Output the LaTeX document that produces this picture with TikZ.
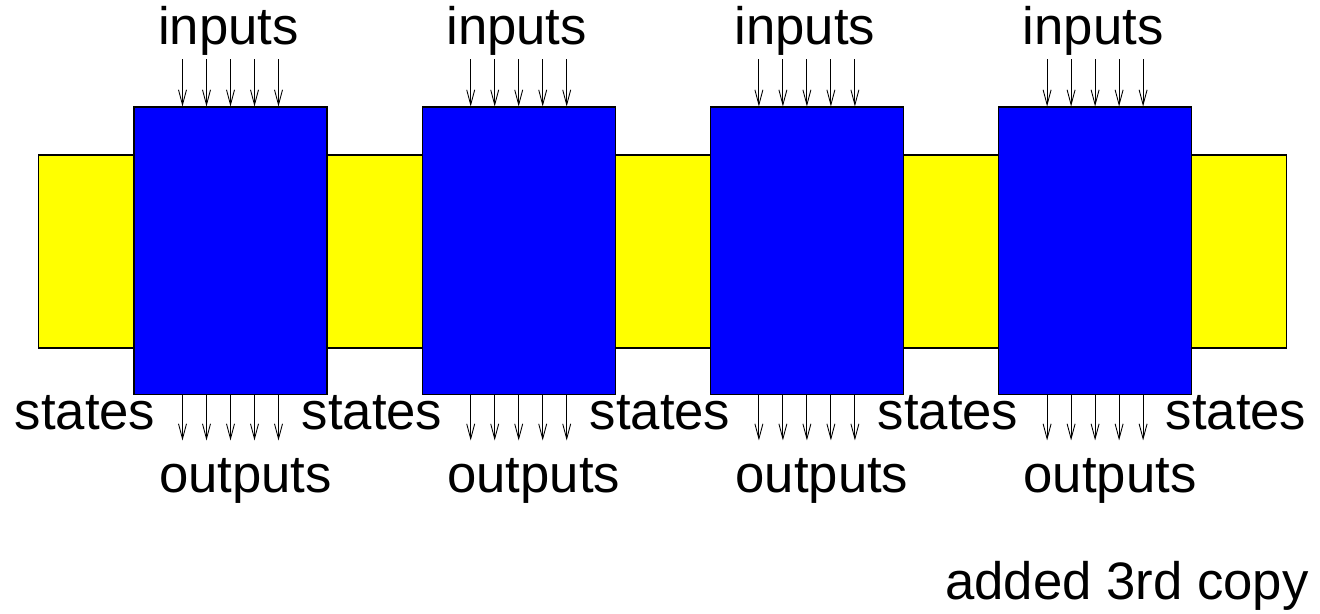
\documentclass[tikz,border=0pt]{standalone}
\usepackage{fontspec}
\setmainfont{Liberation Sans}
\usetikzlibrary{arrows.meta,calc}

\definecolor{bandyellow}{RGB}{255,255,0}
\definecolor{blockblue}{RGB}{0,0,255}

\tikzset{
  block/.style={draw=black, line width=0.6pt, fill=blockblue, minimum width=3.86cm, minimum height=5.76cm, inner sep=0pt},
  band/.style={draw=black, line width=0.6pt, fill=bandyellow, minimum width=24.98cm, minimum height=3.86cm, inner sep=0pt},
  txt/.style={anchor=base, inner sep=0pt},
  sig/.style={-{Straight Barb[length=0.3cm,width=0.16cm]}, line width=0.5pt},
}

\begin{document}
\begin{tikzpicture}[x=0.02cm, y=-0.02cm, every node/.style={font=\fontsize{30}{36}\selectfont}]
\useasboundingbox (0,0) rectangle (1320,614);

% State band running behind all copies
\node[band] (band) at (662.5,251.5) {};

% Copies of the block, each with its inputs and outputs
\foreach \i in {1,...,4} {
  \pgfmathsetmacro{\cx}{230.5+288.2*(\i-1)}
  \node[block] (copy\i) at (\cx,251) {};
  \node[txt] (in\i) at (\cx-2,45) {inputs};
  \node[txt] (out\i) at (\cx+15,493) {outputs};
  \foreach \d [count=\k] in {-48,-24,0,24,48} {
    \coordinate (src\i\k) at ($(copy\i.north)+(\d,-47)$);
    \coordinate (dst\i\k) at ($(copy\i.south)+(\d,45)$);
    \draw[sig] (src\i\k) -- (src\i\k |- copy\i.north);
    \draw[sig] (copy\i.south -| dst\i\k) -- (dst\i\k);
  }
}

% States between the copies
\foreach \x [count=\k] in {85,372,660,948,1236}
  \node[txt] (st\k) at (\x,430) {states};

% Note
\node[txt] (note) at (1127,600) {added 3rd copy};

\end{tikzpicture}
\end{document}
